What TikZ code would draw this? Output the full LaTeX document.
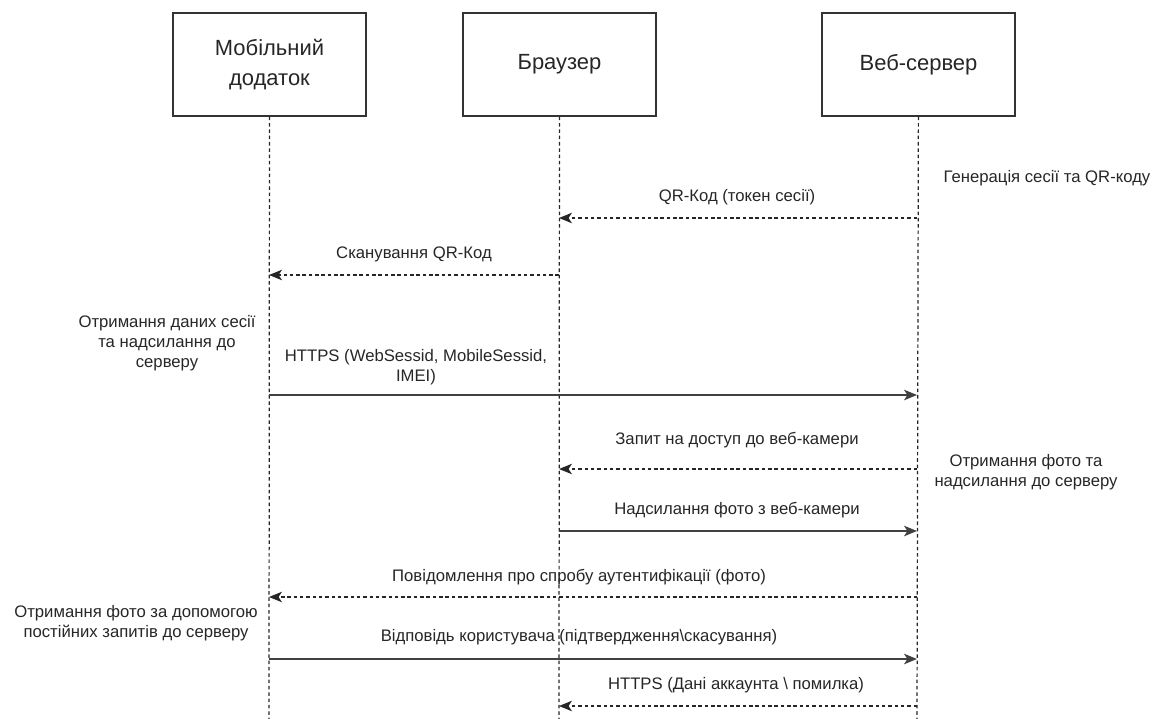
\documentclass[tikz,border=0pt]{standalone}
\usepackage{fontspec}
\setmainfont{Liberation Sans}
\usetikzlibrary{arrows.meta}

\begin{document}
\begin{tikzpicture}[x=0.02cm, y=-0.02cm,
        font=\fontsize{9.5}{11.4}\selectfont, text=black!85,
        actor/.style={draw=black!80, line width=0.8pt, minimum width=3.86cm,
            minimum height=2.06cm, align=center, font=\fontsize{12.5}{17}\selectfont},
        lifeline/.style={line width=0.7pt, black!85, dash pattern=on 2pt off 1.6pt},
        call/.style={-{Stealth[length=2.6mm, width=2.1mm, inset=0.7mm]}, line width=1.1pt, black!75},
        reply/.style={call, line width=0.7pt, black!85, dash pattern=on 2pt off 1.6pt},
        note/.style={align=center}]
        \useasboundingbox (0,0) rectangle (1155,719);

        \path
            % Mobile app
            (269.5,64.5) node[actor] (mob) {Мобільний\\додаток}

            % Browser
            (559.5,64.5) node[actor] (brw) {Браузер}

            % Web server
            (918.5,64.5) node[actor] (srv) {Веб-сервер};

        \coordinate (mobend) at (269,719);
        \coordinate (brwend) at (559,719);
        \coordinate (srvend) at (917,719);

        \draw[lifeline] (mob) -- (mobend);
        \draw[lifeline] (brw) -- (brwend);
        \draw[lifeline] (srv) -- (srvend);

        % Message ends on the lifelines
        \coordinate (s1) at (917,218); \coordinate (b1) at (559,218);
        \coordinate (b2) at (559,275); \coordinate (m2) at (269,275);
        \coordinate (m3) at (269,395); \coordinate (s3) at (917,395);
        \coordinate (s4) at (917,469); \coordinate (b4) at (559,469);
        \coordinate (b5) at (559,531); \coordinate (s5) at (917,531);
        \coordinate (s6) at (917,597); \coordinate (m6) at (269,597);
        \coordinate (m7) at (269,659); \coordinate (s7) at (917,659);
        \coordinate (s8) at (917,706); \coordinate (b8) at (559,706);

        \draw[reply] (s1) -- (b1);
        \draw[reply] (b2) -- (m2);
        \draw[call] (m3) -- (s3);
        \draw[reply] (s4) -- (b4);
        \draw[call] (b5) -- (s5);
        \draw[reply] (s6) -- (m6);
        \draw[call] (m7) -- (s7);
        \draw[reply] (s8) -- (b8);

        \path
            % Message labels
            (737,197) node (l1) {QR-Код (токен сесії)}
            (414,254) node (l2) {Сканування QR-Код}
            (416,367) node[note] (l3) {HTTPS (WebSessid, MobileSessid,\\IMEI)}
            (737,440) node (l4) {Запит на доступ до веб-камери}
            (737,510) node (l5) {Надсилання фото з веб-камери}
            (579,577) node (l6) {Повідомлення про спробу аутентифікації (фото)}
            (579,637) node (l7) {Відповідь користувача (підтвердження\textbackslash скасування)}
            (736,685) node (l8) {HTTPS (Дані аккаунта \textbackslash\ помилка)}

            % Notes beside the lifelines
            (1047,178) node (n1) {Генерація сесії та QR-коду}
            (167,343) node[note] (n2) {Отримання даних сесії\\та надсилання до\\серверу}
            (1026,472) node[note] (n3) {Отримання фото та\\надсилання до серверу}
            (136,623) node[note] (n4) {Отримання фото за допомогою\\постійних запитів до серверу};
    \end{tikzpicture}
\end{document}
